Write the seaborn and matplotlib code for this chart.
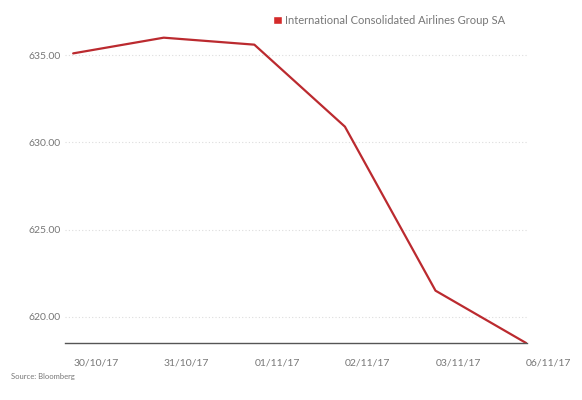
import pandas as pd
import seaborn as sns
import matplotlib.pyplot as plt
from matplotlib.patches import Patch

# values
dates = ['30/10/17', '31/10/17', '01/11/17', '02/11/17', '03/11/17', '06/11/17']
prices = [635.1, 636.0, 635.6, 630.9, 621.5, 618.5]
y_ticks = [620, 625, 630, 635]
series_name = 'International Consolidated Airlines Group SA'

df = pd.DataFrame({'pos': range(len(dates)), 'price': prices})

sns.set_style('white')
plt.rcParams['font.family'] = ['Lato', 'DejaVu Sans']

red = '#bb2a2f'
grey = '#777777'

fig = plt.figure(figsize=(5.82, 4.0), dpi=100)
ax = fig.add_axes([0.1117, 0.1425, 0.7938, 0.82])

sns.lineplot(data=df, x='pos', y='price', color=red, linewidth=1.6, ax=ax)

ax.set_xlim(-0.09, 5.01)
ax.set_ylim(618.5, 637.3)
ax.set_yticks(y_ticks)
ax.set_yticklabels([f'{v:.2f}' for v in y_ticks], fontsize=7.5, color=grey)
ax.set_xticks(df['pos'])
ax.set_xticklabels(dates, fontsize=7.5, color=grey, ha='left')

for v in y_ticks:
    ax.axhline(v, color='#dddddd', linestyle=(0, (1, 2)), linewidth=0.8, zorder=0)

for s in ['top', 'right', 'left']:
    ax.spines[s].set_visible(False)
ax.spines['bottom'].set_color('#555555')
ax.spines['bottom'].set_linewidth(1.0)

ax.tick_params(axis='x', length=3, color='#dddddd', pad=8)
ax.tick_params(axis='y', length=0, pad=3)
ax.set_xlabel('')
ax.set_ylabel('')

fig.legend(handles=[Patch(facecolor='#d42a2a', label=series_name)],
           loc='upper left', bbox_to_anchor=(0.452, 0.988), frameon=False,
           fontsize=8, labelcolor=grey, handlelength=0.8, handleheight=0.8,
           handletextpad=0.3)

fig.text(0.019, 0.052, 'Source: Bloomberg', fontsize=5.5, color=grey)

fig.savefig('out.png', dpi=100)
